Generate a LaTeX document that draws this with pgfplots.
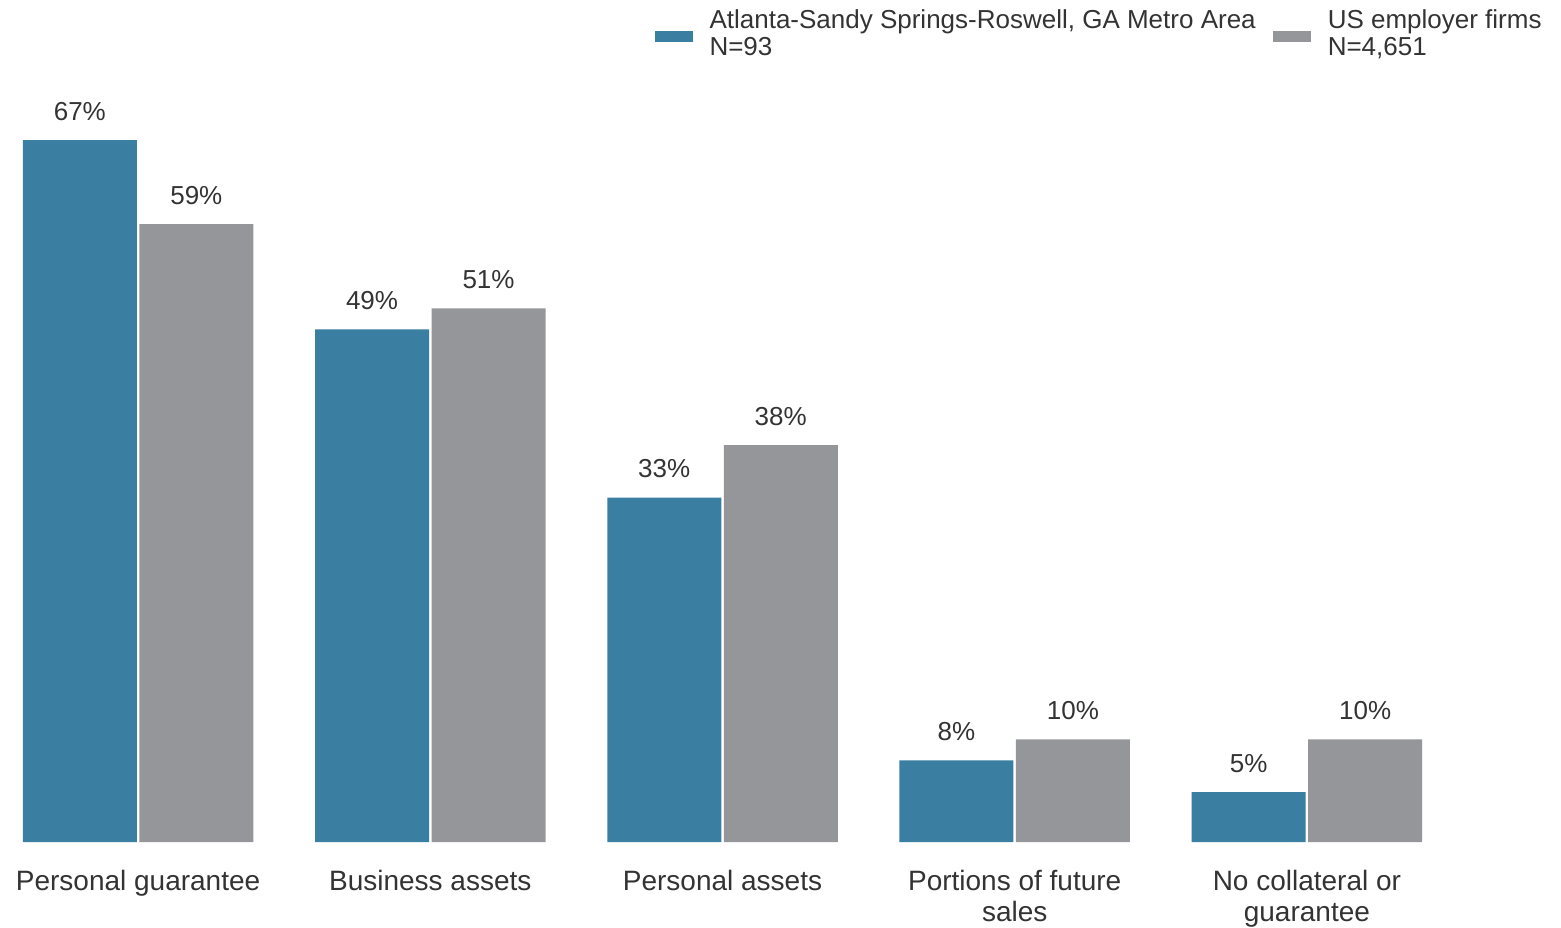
\documentclass[border=0pt]{standalone}
\usepackage{pgfplots}
\pgfplotsset{compat=1.18}
\usepackage{fontspec}
\setmainfont{Liberation Sans}

\definecolor{atlblue}{HTML}{3A7EA1}
\definecolor{usgray}{HTML}{959699}
\definecolor{txt}{HTML}{333333}

\begin{document}
\begin{tikzpicture}
\useasboundingbox (0,0) rectangle (780.5pt,463.5pt);
\begin{axis}[
  at={(0pt,42.5pt)}, anchor=south west,
  scale only axis,
  width=780.5pt, height=421pt,
  ybar=1.25pt,
  bar width=57pt,
  xmin=-0.4726, xmax=4.8733,
  ymin=0.247, ymax=80.32,
  axis line style={draw=none},
  major tick length=0pt,
  ytick=\empty,
  xtick=data,
  xticklabels={
    {Personal guarantee},
    {Business assets},
    {Personal assets},
    {\begin{tabular}[t]{@{}c@{}}Portions of future\\sales\end{tabular}},
    {\begin{tabular}[t]{@{}c@{}}No collateral or\\guarantee\end{tabular}}},
  xticklabel style={anchor=base, inner sep=0pt, yshift=-24pt,
    font=\fontsize{14}{15.5}\selectfont, text=txt},
  /pgf/number format/assume math mode=true,
  nodes near coords={\pgfmathprintnumber{\pgfplotspointmeta}\%},
  every node near coord/.append style={anchor=base, inner sep=0pt, yshift=10pt,
    font=\fontsize{13}{15}\selectfont, text=txt},
  legend columns=2,
  legend cell align=left,
  legend image code/.code={\fill (0pt,-11pt) rectangle (19pt,-5.5pt);},
  legend style={draw=none, fill=none, inner sep=0pt, outer sep=0pt,
    at={(0.419,0.989)}, anchor=north west,
    column sep=8.5pt,
    nodes={inner sep=0pt, text=txt},
    font=\fontsize{13}{13.5}\selectfont},
]
\addplot[fill=atlblue, draw=none]
  coordinates {(0,67) (1,49) (2,33) (3,8) (4,5)};
\addlegendentry{\begin{tabular}[t]{@{}l@{}}Atlanta-Sandy Springs-Roswell, GA Metro Area\\N=93\end{tabular}}
\addplot[fill=usgray, draw=none]
  coordinates {(0,59) (1,51) (2,38) (3,10) (4,10)};
\addlegendentry{\begin{tabular}[t]{@{}l@{}}US employer firms\\N=4,651\end{tabular}}
\end{axis}
\end{tikzpicture}
\end{document}
